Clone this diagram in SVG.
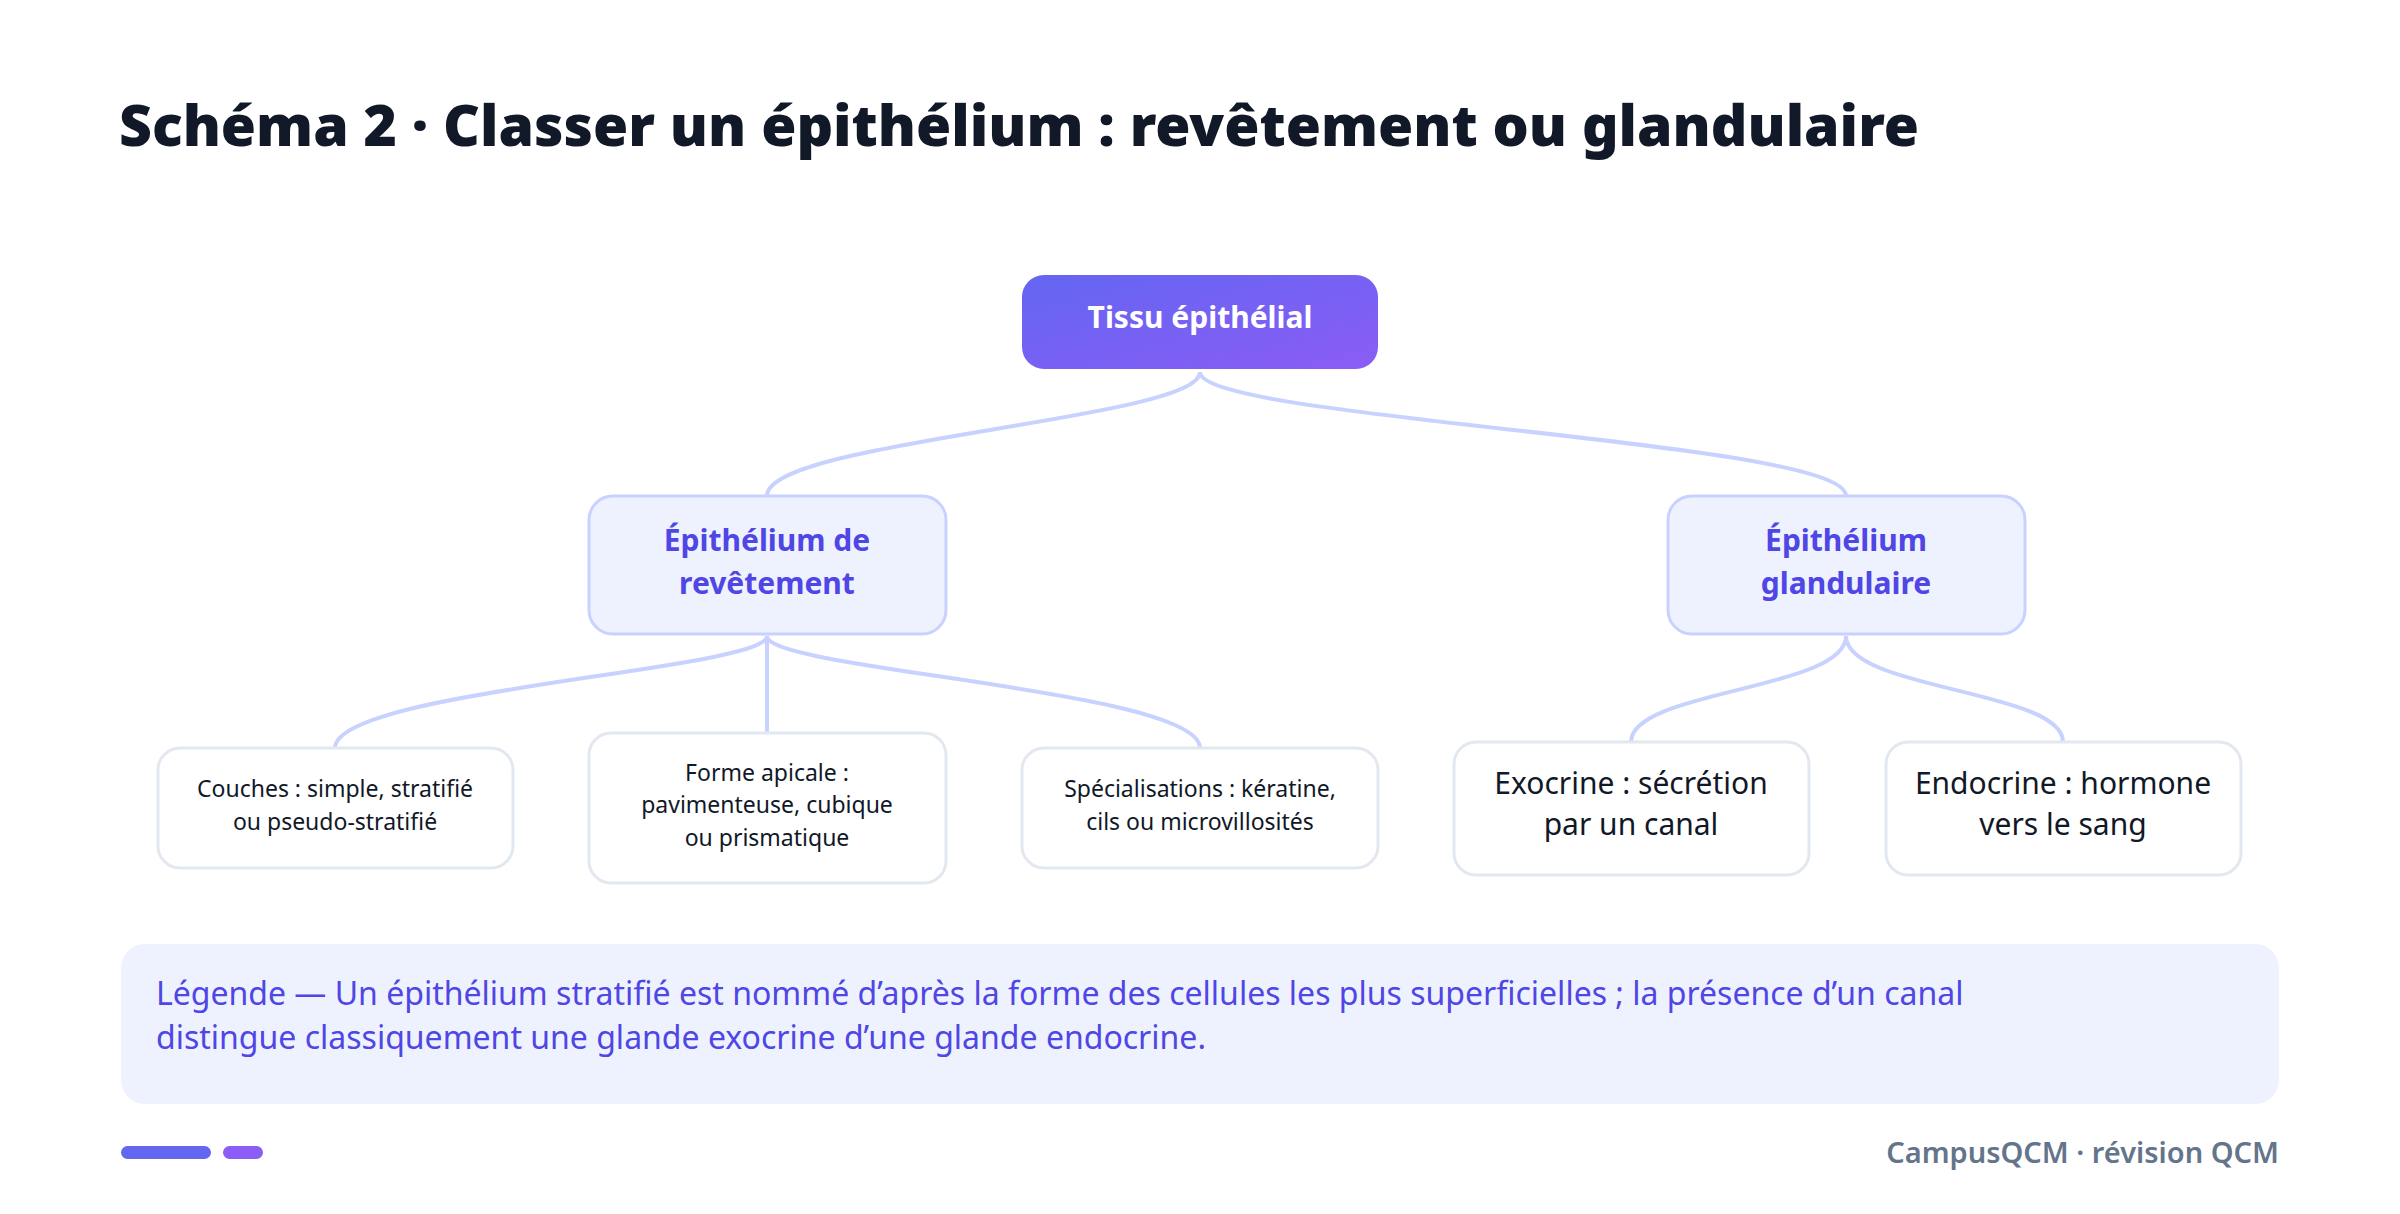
<svg xmlns="http://www.w3.org/2000/svg" width="2400" height="1214" viewBox="0 0 2400 1214">
<defs>
<linearGradient id="g" x1="0" y1="0" x2="1" y2="1"><stop offset="0" stop-color="#6366f1"/><stop offset="1" stop-color="#8b5cf6"/></linearGradient>
<style>
text{font-family:"Noto Sans","Open Sans",sans-serif}
.l2{fill:#eef2ff;stroke:#c7d2fe;stroke-width:3}
.l2t{fill:#4f46e5;font-size:30px;font-weight:700;text-anchor:middle}
.leaf{fill:#fff;stroke:#e2e8f0;stroke-width:3}
.lt{fill:#111827;font-size:23px;text-anchor:middle}
.lt2{fill:#111827;font-size:30px;text-anchor:middle}
.c{fill:none;stroke:#c7d2fe;stroke-width:4}
</style>
</defs>
<rect width="2400" height="1214" fill="#fff"/>
<text x="119" y="146" font-size="57" font-weight="900" fill="#111827" textLength="1800" lengthAdjust="spacingAndGlyphs">Schéma 2 · Classer un épithélium : revêtement ou glandulaire</text>
<g id="connectors">
<path class="c" d="M1200 372 C1200 420 767 440 767 496"/>
<path class="c" d="M1200 372 C1200 420 1846 440 1846 496"/>
<path class="c" d="M767 636 C767 670 335 690 335 748"/>
<path class="c" d="M767 636 L767 733"/>
<path class="c" d="M767 636 C767 670 1200 690 1200 748"/>
<path class="c" d="M1846 636 C1846 690 1631 690 1631 742"/>
<path class="c" d="M1846 636 C1846 690 2063 690 2063 742"/>
</g>
<g id="root"><rect x="1022" y="275" width="356" height="94" rx="22" fill="url(#g)"/><text x="1200" y="328" font-size="30" font-weight="700" fill="#fff" text-anchor="middle">Tissu épithélial</text></g>
<g id="revetement"><rect class="l2" x="589" y="496" width="357" height="138" rx="24"/><text class="l2t" x="767" y="551">Épithélium de</text><text class="l2t" x="767" y="594">revêtement</text></g>
<g id="glandulaire"><rect class="l2" x="1668" y="496" width="357" height="138" rx="24"/><text class="l2t" x="1846" y="551">Épithélium</text><text class="l2t" x="1846" y="594">glandulaire</text></g>
<g id="couches"><rect class="leaf" x="158" y="748" width="355" height="120" rx="22"/><text class="lt" x="335" y="797">Couches : simple, stratifié</text><text class="lt" x="335" y="830">ou pseudo-stratifié</text></g>
<g id="forme"><rect class="leaf" x="589" y="733" width="357" height="150" rx="22"/><text class="lt" x="767" y="781">Forme apicale :</text><text class="lt" x="767" y="813">pavimenteuse, cubique</text><text class="lt" x="767" y="846">ou prismatique</text></g>
<g id="specialisations"><rect class="leaf" x="1022" y="748" width="356" height="120" rx="22"/><text class="lt" x="1200" y="797">Spécialisations : kératine,</text><text class="lt" x="1200" y="830">cils ou microvillosités</text></g>
<g id="exocrine"><rect class="leaf" x="1454" y="742" width="355" height="133" rx="22"/><text class="lt2" x="1631" y="794">Exocrine : sécrétion</text><text class="lt2" x="1631" y="835">par un canal</text></g>
<g id="endocrine"><rect class="leaf" x="1886" y="742" width="355" height="133" rx="22"/><text class="lt2" x="2063" y="794">Endocrine : hormone</text><text class="lt2" x="2063" y="835">vers le sang</text></g>
<g id="legende"><rect x="121" y="944" width="2158" height="160" rx="24" fill="#eef2ff"/>
<text x="156" y="1005" font-size="32" fill="#4f46e5">Légende — Un épithélium stratifié est nommé d’après la forme des cellules les plus superficielles ; la présence d’un canal</text>
<text x="156" y="1049" font-size="32" fill="#4f46e5">distingue classiquement une glande exocrine d’une glande endocrine.</text></g>
<rect x="121" y="1146" width="90" height="13" rx="6.5" fill="#6366f1"/>
<rect x="223" y="1146" width="40" height="13" rx="6.5" fill="#8b5cf6"/>
<text x="2279" y="1163" font-size="29" font-weight="600" fill="#64748b" text-anchor="end">CampusQCM · révision QCM</text>
</svg>
